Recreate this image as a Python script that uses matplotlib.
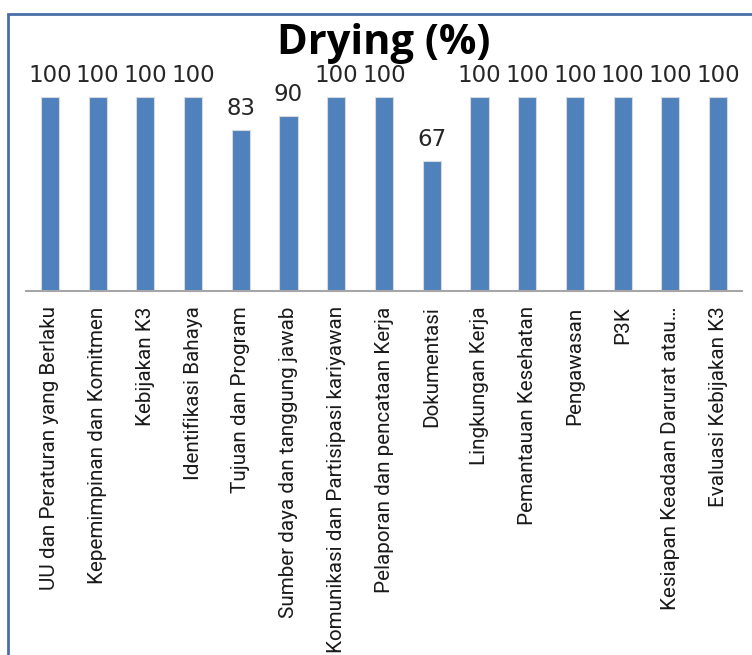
import matplotlib
matplotlib.use("Agg")
import matplotlib.pyplot as plt
from matplotlib.patches import Rectangle

categories = [
    "UU dan Peraturan yang Berlaku",
    "Kepemimpinan dan Komitmen",
    "Kebijakan K3",
    "Identifikasi Bahaya",
    "Tujuan dan Program",
    "Sumber daya dan tanggung jawab",
    "Komunikasi dan Partisipasi kariyawan",
    "Pelaporan dan pencataan Kerja",
    "Dokumentasi",
    "Lingkungan Kerja",
    "Pemantauan Kesehatan",
    "Pengawasan",
    "P3K",
    "Kesiapan Keadaan Darurat atau\u2026",
    "Evaluasi Kebijakan K3",
]
values = [100, 100, 100, 100, 83, 90, 100, 100, 67, 100, 100, 100, 100, 100, 100]
title = "Drying (%)"

W, H = 752, 655
plt.rcParams['font.family'] = ['DejaVu Sans']
fig = plt.figure(figsize=(W / 100, H / 100), dpi=100)

# chart border
fig.patches.append(Rectangle((8 / W, -0.1), 1.2, 1 - 14 / H + 0.1, transform=fig.transFigure,
                             fill=False, edgecolor='#4a6fa8', linewidth=2.0))

ax = fig.add_axes([26 / W, 1 - 291 / H, (742 - 26) / W, (291 - 97) / H])
x = list(range(len(categories)))
bars = ax.bar(x, values, width=0.38, color='#4F81BD', edgecolor='#d9d9d9', linewidth=0.8)
ax.set_xlim(-0.5, len(categories) - 0.5)
ax.set_ylim(0, 100)

for xi, v in zip(x, values):
    ax.annotate(str(v), (xi, v), xytext=(0, 11), textcoords='offset points',
                ha='center', va='baseline', fontsize=16.5, color='#262626', clip_on=False)

ax.set_xticks(x)
ax.set_xticklabels(categories, rotation=90, fontsize=14.9, color='#1a1a1a',
                   family=['Roboto', 'DejaVu Sans'])
ax.tick_params(axis='x', length=0, pad=11)
ax.set_yticks([])
for s in ['top', 'right', 'left']:
    ax.spines[s].set_visible(False)
ax.spines['bottom'].set_color('#a6a6a6')
ax.spines['bottom'].set_linewidth(1.5)

fig.text(384 / W, 1 - 54 / H, title, ha='center', va='baseline', fontsize=30,
         fontweight='bold', family=['Open Sans', 'DejaVu Sans'], color='black')

fig.savefig('out.png', dpi=100)
